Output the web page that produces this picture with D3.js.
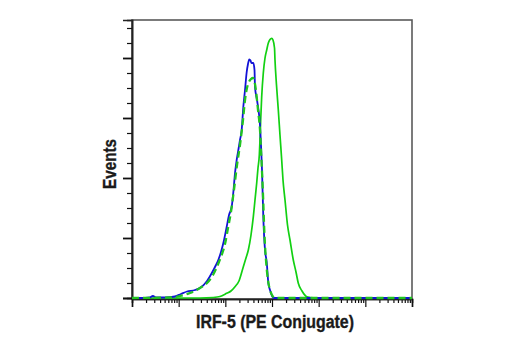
<!DOCTYPE html>
<html>
<head>
<meta charset="utf-8">
<script src="https://cdn.jsdelivr.net/npm/d3@7"></script>
<style>
  html, body { margin: 0; padding: 0; background: #fff; }
  svg { display: block; }
  .lbl { font-family: "Liberation Sans Narrow", "Arial Narrow", "Liberation Sans", Arial, sans-serif; font-weight: bold; fill: #1a1a1a; stroke: #1a1a1a; stroke-width: 0.35; }
</style>
</head>
<body>
<svg id="chart" width="520" height="350"></svg>
<script>
// Fluorescence intensity (log axis) and event counts for each histogram
const blueSolidX = [1, 1.9, 2.4, 2.8, 3.3, 5.1, 8.3, 11.2, 15.1, 22.4, 31.2, 40.5, 51, 63, 70.6, 80.7, 90.4, 107, 120, 137, 150, 161, 175, 190, 206, 224, 243, 264, 287, 306, 326, 346, 364, 398, 422, 432, 477, 514, 553, 581, 611, 651, 708, 770, 834, 906, 1066, 1483, 1e6];
const blueSolidY = [0, 0, 0.5, 2, 0.5, 0.5, 1.5, 4, 6.5, 8, 11.3, 17, 24.7, 33, 38, 46, 54.7, 71.3, 83, 91.3, 108, 124.7, 138, 148, 158, 168, 191.3, 208, 226, 234, 238.7, 237.5, 235, 235, 228, 211, 198, 188, 173, 153, 128, 81.3, 48, 36, 15, 8, 0, 0, 0];

const greenDashedX = [1, 6.5, 10.7, 17.5, 28.7, 40.5, 54.4, 73, 85, 98.4, 114, 132, 153, 178, 206, 239, 264, 291, 321, 355, 392, 432, 465, 501, 553, 595, 642, 690, 743, 820, 906, 1000, 1159, 1e6];
const greenDashedY = [0, 0.5, 2, 5, 10, 15, 23, 36, 44, 54, 70, 86, 108, 133, 153, 178, 198, 210, 216, 219, 220, 214, 203, 188, 168, 138, 103, 63, 38, 18, 8, 3, 0, 0];

const greenSolidX = [1, 28.7, 54.4, 76.9, 107, 132, 161, 196, 243, 277, 311, 355, 398, 432, 470, 501, 535, 553, 572, 601, 651, 708, 770, 834, 906, 985, 1050, 1132, 1159, 1248, 1365, 1483, 1614, 1721, 1900, 2149, 2431, 2860, 3266, 3662, 4396, 5545, 6516, 9060, 1e6];
const greenSolidY = [0, 0, 0.5, 1.5, 4.7, 7, 11.3, 17, 31.3, 40, 48, 63, 81.3, 98, 115, 130, 143, 158, 178, 201, 225, 240, 248, 255, 258.5, 259.7, 258, 250, 238, 213, 188, 163, 138, 118, 98, 73, 58, 38, 26, 14.7, 7, 1.3, 0.5, 0, 0];

// Axis tick values
const xMajorTicks = [1, 10, 100, 1e3, 1e4, 1e5, 1e6];
const xMinorTicks = [2, 3, 4, 5, 6, 7, 8, 9];
const yMajorTicks = [0, 60, 120, 180, 240];
const yMinorStep = 15;

const axisTitleX = "IRF-5 (PE Conjugate)";
const axisTitleY = "Events";

const svg = d3.select("#chart");
const plotLeft = 132, plotRight = 412, plotTop = 20, plotBottom = 298;

const x = d3.scaleLog().domain([1, 1e6]).range([plotLeft, plotRight]);
const y = d3.scaleLinear().domain([0, 278]).range([plotBottom, plotTop]);

// plot frame
svg.append("rect")
  .attr("x", plotLeft).attr("y", plotTop)
  .attr("width", plotRight - plotLeft).attr("height", plotBottom + 1 - plotTop)
  .attr("fill", "none").attr("stroke", "#5a5a5a").attr("stroke-width", 1.6);

// x ticks
const minorX = [];
xMajorTicks.slice(0, -1).forEach(d => xMinorTicks.forEach(m => minorX.push(d * m)));

const gx = svg.append("g").attr("transform", `translate(0,${plotBottom + 1})`);
gx.call(d3.axisBottom(x).tickValues(minorX).tickSize(4).tickFormat(""));
gx.append("g").call(d3.axisBottom(x).tickValues(xMajorTicks).tickSize(8).tickFormat(""));
gx.selectAll(".domain").attr("stroke", "#222").attr("stroke-width", 1.6);
gx.selectAll(".tick line").attr("stroke", "#111").attr("stroke-width", 1.2);

// y ticks
const minorY = d3.range(yMinorStep, 278, yMinorStep).filter(v => v % 60 !== 0);
const gy = svg.append("g").attr("transform", `translate(${plotLeft},0)`);
gy.call(d3.axisLeft(y).tickValues(minorY).tickSize(5).tickFormat(""));
gy.append("g").call(d3.axisLeft(y).tickValues(yMajorTicks).tickSize(9).tickFormat(""));
gy.selectAll(".domain").attr("stroke", "#222").attr("stroke-width", 1.6);
gy.selectAll(".tick line").attr("stroke", "#111").attr("stroke-width", 1.2);
gy.selectAll("g g .tick line").attr("stroke-width", 1.8);

// histogram curves
const line = d3.line()
  .x(d => x(d[0]))
  .y(d => y(d[1]))
  .curve(d3.curveMonotoneX);

const plot = svg.append("g");
plot.append("path")
  .datum(d3.zip(greenSolidX, greenSolidY))
  .attr("d", line).attr("fill", "none")
  .attr("stroke", "#12d012").attr("stroke-width", 1.7);
plot.append("path")
  .datum(d3.zip(blueSolidX, blueSolidY))
  .attr("d", line).attr("fill", "none")
  .attr("stroke", "#1212d6").attr("stroke-width", 1.8);
plot.append("path")
  .datum(d3.zip(greenDashedX, greenDashedY))
  .attr("d", line).attr("fill", "none")
  .attr("stroke", "#20c420").attr("stroke-width", 2.3)
  .attr("stroke-dasharray", "7,4");

// axis titles
svg.append("text").attr("class", "lbl")
  .attr("x", 275).attr("y", 328)
  .attr("text-anchor", "middle")
  .attr("font-size", 17.5)
  .attr("textLength", 158).attr("lengthAdjust", "spacingAndGlyphs")
  .text(axisTitleX);

svg.append("text").attr("class", "lbl")
  .attr("transform", "translate(116,164) rotate(-90)")
  .attr("text-anchor", "middle")
  .attr("font-size", 17.5)
  .attr("textLength", 50).attr("lengthAdjust", "spacingAndGlyphs")
  .text(axisTitleY);
</script>
</body>
</html>
